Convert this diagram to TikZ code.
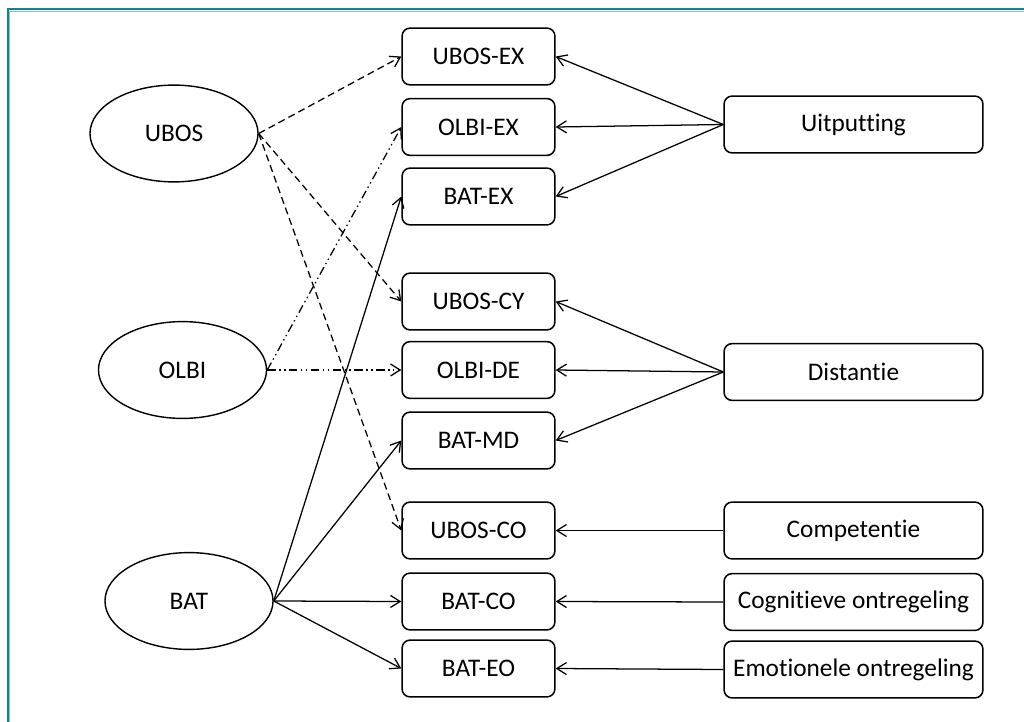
\documentclass[tikz,border=0pt]{standalone}
\usepackage{fontspec}
\setmainfont{Carlito}[Ligatures={NoCommon}]
\usetikzlibrary{arrows.meta,shapes.geometric}
\definecolor{frameteal}{RGB}{20,130,150}
\definecolor{framelight}{RGB}{130,200,220}

\begin{document}
\begin{tikzpicture}[x=0.025cm,y=-0.025cm,
  every node/.style={font=\fontsize{18}{22}\selectfont},
  lat/.style={draw, ellipse, line width=1pt, minimum width=4.2cm, minimum height=2.42cm, inner sep=0pt},
  sub/.style={draw, rectangle, rounded corners=0.2cm, line width=1.1pt, minimum width=3.82cm, minimum height=1.42cm},
  fac/.style={sub, minimum width=6.47cm},
  >={Straight Barb[length=2.4mm,width=3mm]},
  ubosline/.style={->, line width=0.9pt, dash pattern=on 5pt off 3pt},
  olbiline/.style={->, line width=0.9pt, dash pattern=on 6pt off 2.5pt on 1pt off 2.5pt on 1pt off 2.5pt},
  batline/.style={->, line width=0.9pt}]
\useasboundingbox (0,0) rectangle (1024,722);
\clip (0,0) rectangle (1024,722);
\draw[frameteal, line width=1.6pt] (8,9.3) rectangle (1100,800);
\draw[framelight, line width=0.7pt] (9.8,11) rectangle (1100,800);

% latent constructs
\node[lat] (ubos) at (174,133.5) {UBOS};
\node[lat] (olbi) at (182.5,370) {OLBI};
\node[lat] (bat) at (189,601) {BAT};

% subscales
\node[sub] (ubosex) at (478.5,56.5) {UBOS-EX};
\node[sub] (olbiex) at (478.5,127) {OLBI-EX};
\node[sub] (batex) at (478.5,196.5) {BAT-EX};
\node[sub] (uboscy) at (478.5,301.5) {UBOS-CY};
\node[sub] (olbide) at (478.5,370) {OLBI-DE};
\node[sub] (batmd) at (478.5,440.5) {BAT-MD};
\node[sub] (ubosco) at (478.5,530.5) {UBOS-CO};
\node[sub] (batco) at (478.5,601.5) {BAT-CO};
\node[sub] (bateo) at (478.5,668.5) {BAT-EO};

% factors
\node[fac] (uit) at (853.5,124.5) {Uitputting};
\node[fac] (dist) at (853.5,372) {Distantie};
\node[fac] (comp) at (853.5,530.5) {Competentie};
\node[fac] (cog) at (853.5,602) {Cognitieve ontregeling};
\node[fac] (emo) at (853.5,669.5) {Emotionele ontregeling};

\draw[ubosline] (ubos.east) -- (ubosex.west);
\draw[ubosline] (ubos.east) -- (uboscy.west);
\draw[ubosline] (ubos.east) -- (ubosco.west);
\draw[olbiline] (olbi.east) -- (olbiex.west);
\draw[olbiline] (olbi.east) -- (olbide.west);
\draw[batline] (bat.east) -- (batex.west);
\draw[batline] (bat.east) -- (batmd.west);
\draw[batline] (bat.east) -- (batco.west);
\draw[batline] (bat.east) -- (bateo.west);

\draw[batline] (uit.west) -- (ubosex.east);
\draw[batline] (uit.west) -- (olbiex.east);
\draw[batline] (uit.west) -- (batex.east);
\draw[batline] (dist.west) -- (uboscy.east);
\draw[batline] (dist.west) -- (olbide.east);
\draw[batline] (dist.west) -- (batmd.east);
\draw[batline] (comp.west) -- (ubosco.east);
\draw[batline] (cog.west) -- (batco.east);
\draw[batline] (emo.west) -- (bateo.east);
\end{tikzpicture}
\end{document}
